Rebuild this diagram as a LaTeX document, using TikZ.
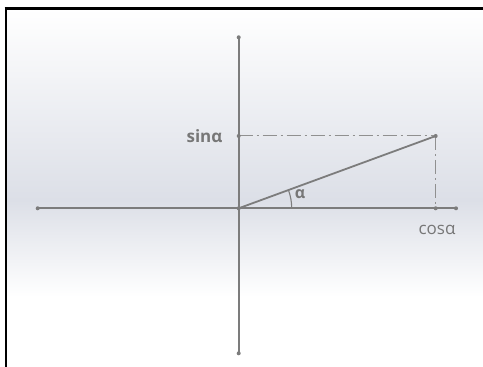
\documentclass[tikz,border=0pt]{standalone}
\usepackage{fontspec}
\setmainfont{Open Sans}
\usepackage{xcolor}
\usetikzlibrary{positioning,calc}
\definecolor{axisgray}{HTML}{7C7C7C}
\definecolor{labelgray}{HTML}{777777}
\definecolor{bandgray}{HTML}{DCDFE7}
\begin{document}
\begin{tikzpicture}[
  x=1pt,y=1pt,
  axis/.style={draw=axisgray,line width=1.8pt},
  proj/.style={draw=axisgray!85,line width=1pt,dash pattern=on 14pt off 4pt on 2pt off 4pt},
  pt/.style={circle,fill=axisgray,inner sep=0pt,minimum size=4pt},
  lbl/.style={text=labelgray,font=\fontsize{16}{18}\selectfont,inner sep=0pt}
]
\useasboundingbox (0,0) rectangle (483,367);
% background
\fill[white] (0,0) rectangle (483,367);
\shade[top color=white,bottom color=bandgray] (7,167) rectangle (483,358);
\shade[top color=bandgray,bottom color=white] (7,70) rectangle (483,167);
\fill[white] (7,0) rectangle (483,70);
\draw[black,line width=2.5pt] (4.5,358.5) -- (483,358.5);
\draw[black,line width=2.5pt] (6,0) -- (6,359.7);
% points
\coordinate (origin) at (238.7,158.7);
\coordinate (ytop) at (238.7,329.7);
\coordinate (ybot) at (238.7,13.7);
\coordinate (xleft) at (37.7,158.7);
\coordinate (xright) at (456,158.7);
\coordinate (tip) at (435.7,231);
\coordinate (sinpt) at (origin |- tip);
\coordinate (cospt) at (tip |- origin);
% axes and vector
\draw[axis] (xleft) -- (xright);
\draw[axis] (ybot) -- (ytop);
\draw[axis] (origin) -- (tip);
\draw[proj] (sinpt) -- (tip);
\draw[proj] (tip) -- (cospt);
\draw[axisgray,line width=1.1pt] ($(origin)+(53,0)$) arc[start angle=0,end angle=20.15,radius=53];
\foreach \p in {origin,ytop,ybot,xleft,xright,tip,sinpt,cospt}
  \node[pt] at (\p) {};
% labels
\node[lbl,font=\fontsize{17}{19}\selectfont\bfseries] (sinlbl) at (204.5,230.5) {sinα};
\node[lbl,font=\fontsize{17}{19}\selectfont] (coslbl) at (437,137) {cosα};
\node[lbl,font=\fontsize{16}{18}\selectfont\bfseries] (alphalbl) at (300,172.5) {α};
\end{tikzpicture}
\end{document}
